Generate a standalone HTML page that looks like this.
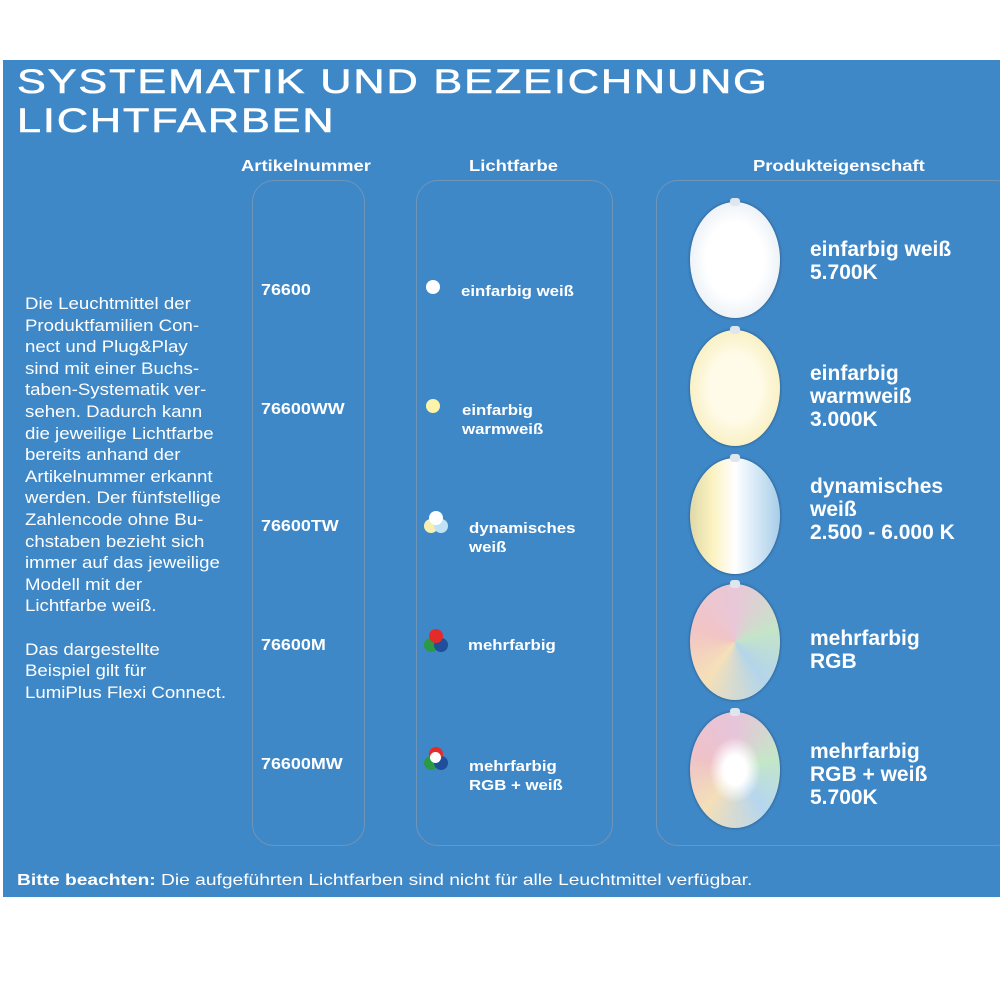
<!DOCTYPE html>
<html><head><meta charset="utf-8"><style>
body{margin:0;width:1000px;height:1000px;background:#fff;position:relative;font-family:"Liberation Sans",sans-serif;overflow:hidden}
#p{position:absolute;left:3px;top:60px;width:997px;height:837px;background:#3f88c8}
.a{position:absolute;color:#fff;transform-origin:0 0;white-space:nowrap}
.t{font-size:34px;letter-spacing:1.5px;transform:scaleX(1.27);line-height:39px;-webkit-text-stroke:0.6px #fff}
.h{font-weight:bold;font-size:16px;transform:scaleX(1.15)}
.box{position:absolute;border:1.5px solid #6f95b8;border-radius:22px}
.s{font-size:15px;font-weight:bold;transform:scaleX(1.12)}
.f{font-size:16.5px;line-height:21.6px;transform:scaleX(1.13)}
.b{position:absolute;width:90px;height:116px;border-radius:50%;box-shadow:0 0 3px rgba(0,0,0,.4)}
.b:after{content:"";position:absolute;left:40px;top:-4px;width:10px;height:8px;border-radius:3px;background:#dfe6ee}
.d{position:absolute;width:14px;height:14px;border-radius:50%}
.pr{font-size:21px;line-height:23px;font-weight:bold}
</style></head><body>
<div id="p"></div>
<div class="a t" style="left:17px;top:63px">SYSTEMATIK UND BEZEICHNUNG<br>LICHTFARBEN</div>
<div class="a h" style="left:241px;top:158px">Artikelnummer</div>
<div class="a h" style="left:469px;top:158px">Lichtfarbe</div>
<div class="a h" style="left:753px;top:158px">Produkteigenschaft</div>
<div class="box" style="left:252px;top:180px;width:111px;height:664px"></div>
<div class="box" style="left:416px;top:180px;width:195px;height:664px"></div>
<div class="box" style="left:656px;top:180px;width:360px;height:664px"></div>
<div class="a f" style="left:25px;top:294px">Die Leuchtmittel der<br>Produktfamilien Con-<br>nect und Plug&amp;Play<br>sind mit einer Buchs-<br>taben-Systematik ver-<br>sehen. Dadurch kann<br>die jeweilige Lichtfarbe<br>bereits anhand der<br>Artikelnummer erkannt<br>werden. Der fünfstellige<br>Zahlencode ohne Bu-<br>chstaben bezieht sich<br>immer auf das jeweilige<br>Modell mit der<br>Lichtfarbe weiß.<br><br>Das dargestellte<br>Beispiel gilt für<br>LumiPlus Flexi Connect.</div>
<div class="a s" style="left:261px;top:282px;font-size:16px">76600</div>
<div class="a s" style="left:261px;top:401px;font-size:16px">76600WW</div>
<div class="a s" style="left:261px;top:518px;font-size:16px">76600TW</div>
<div class="a s" style="left:261px;top:637px;font-size:16px">76600M</div>
<div class="a s" style="left:261px;top:756px;font-size:16px">76600MW</div>
<div class="d" style="left:426px;top:280px;background:#fff"></div>
<div class="d" style="left:426px;top:399px;background:#fbf3a8"></div>
<div class="d" style="left:424px;top:519px;background:#f7efb0"></div><div class="d" style="left:434px;top:519px;background:#bfe3f5"></div><div class="d" style="left:429px;top:511px;background:#fff"></div>
<div class="d" style="left:424px;top:638px;background:#2a9a45"></div><div class="d" style="left:434px;top:638px;background:#1f4e9a"></div><div class="d" style="left:429px;top:629px;background:#e52a2a"></div>
<div class="d" style="left:424px;top:756px;background:#2a9a45"></div><div class="d" style="left:434px;top:756px;background:#1f4e9a"></div><div class="d" style="left:429px;top:747px;background:#e52a2a"></div><div class="d" style="left:430px;top:752px;width:11px;height:11px;background:#fff"></div>
<div class="a s" style="left:461px;top:283px">einfarbig weiß</div>
<div class="a s" style="left:462px;top:401px;line-height:19px">einfarbig<br>warmweiß</div>
<div class="a s" style="left:469px;top:519px;line-height:19px">dynamisches<br>weiß</div>
<div class="a s" style="left:468px;top:637px">mehrfarbig</div>
<div class="a s" style="left:469px;top:757px;line-height:19px">mehrfarbig<br>RGB + weiß</div>
<div class="b" style="left:690px;top:202px;background:radial-gradient(ellipse at 50% 50%,#fff 45%,#eef3f8 70%,#c9d3dd 100%)"></div>
<div class="b" style="left:690px;top:330px;background:radial-gradient(ellipse at 50% 50%,#fffbe8 40%,#f8efc0 75%,#d9cfa0 100%)"></div>
<div class="b" style="left:690px;top:458px;background:linear-gradient(90deg,#e0d8a8 0%,#fbf2c0 25%,#fff 50%,#dcecf8 70%,#a8cde8 100%)"></div>
<div class="b" style="left:690px;top:584px;background:conic-gradient(#e9c7d8,#c5e4c8,#b3d5ea,#f5e0b8,#f2c4c4,#e9c7d8)"></div>
<div class="b" style="left:690px;top:712px;background:radial-gradient(ellipse at 50% 50%,#fff 18%,transparent 40%),conic-gradient(#e7c4da,#c4e7c7,#b6d6ef,#f3dfb9,#efc2c7,#e7c4da)"></div>
<div class="a pr" style="left:810px;top:238px">einfarbig weiß<br>5.700K</div>
<div class="a pr" style="left:810px;top:362px">einfarbig<br>warmweiß<br>3.000K</div>
<div class="a pr" style="left:810px;top:475px">dynamisches<br>weiß<br>2.500 - 6.000 K</div>
<div class="a pr" style="left:810px;top:627px">mehrfarbig<br>RGB</div>
<div class="a pr" style="left:810px;top:740px">mehrfarbig<br>RGB + weiß<br>5.700K</div>
<div class="a" style="left:17px;top:872px;font-size:16px;transform:scaleX(1.2)"><b>Bitte beachten:</b> Die aufgeführten Lichtfarben sind nicht für alle Leuchtmittel verfügbar.</div>
</body></html>
